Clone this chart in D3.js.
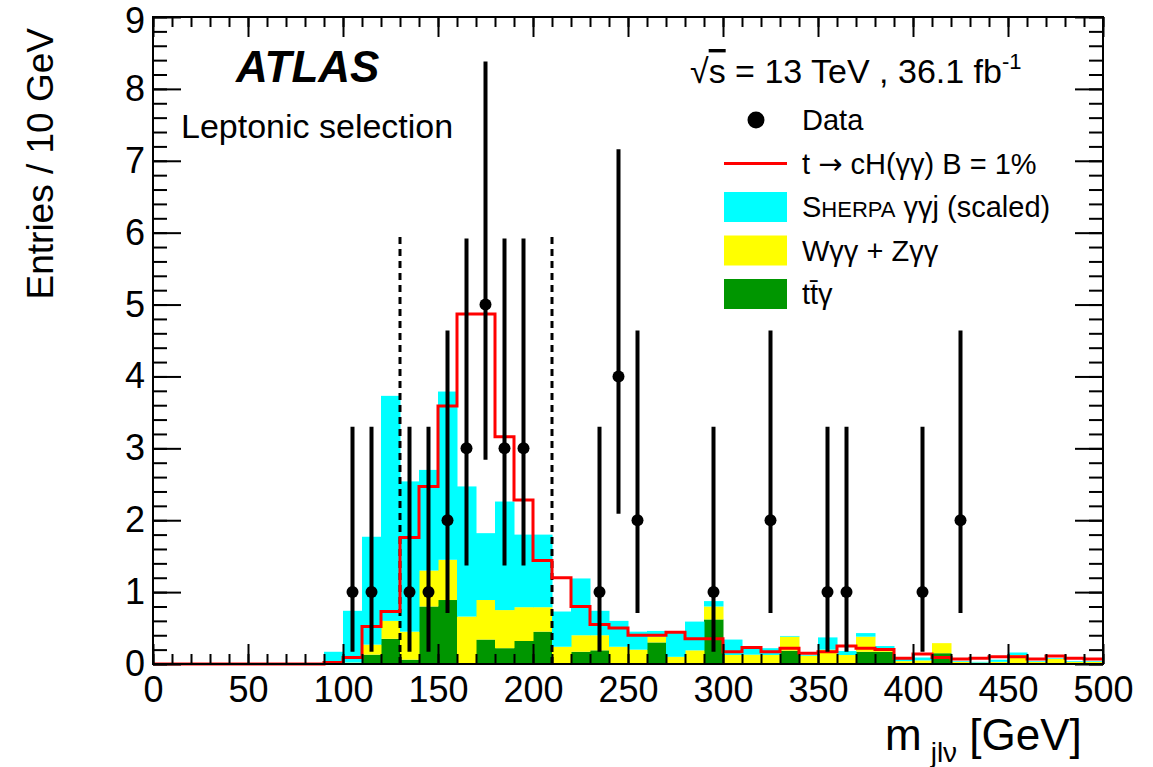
<!DOCTYPE html>
<html>
<head>
<meta charset="utf-8">
<script src="https://cdn.jsdelivr.net/npm/d3@7"></script>
<style>
  body { margin: 0; background: #fff; }
  svg text { font-family: "Liberation Sans", Arial, Helvetica, sans-serif; fill: #000; }
</style>
</head>
<body>
<div id="wrapper"></div>
<script>
// bins of 10 GeV, lower edges 0..490
const binLow = d3.range(0, 500, 10)

// ttbar gamma (green)
const ttgamma = [0, 0, 0, 0, 0, 0, 0, 0, 0,
  0, 0, 0.13, 0.35, 0.06, 0.80, 0.89, 0, 0.34, 0.22, 0.32, 0.45,
  0, 0.17, 0.19, 0, 0, 0.30, 0, 0, 0.62, 0, 0, 0, 0.185, 0, 0, 0, 0.17, 0.17, 0, 0, 0.15,
  0, 0, 0, 0, 0, 0, 0, 0]

// W gamma gamma + Z gamma gamma (yellow)
const vgamgam = [0, 0, 0, 0, 0, 0, 0, 0, 0,
  0, 0.02, 0.14, 0.25, 0.39, 0.50, 0.56, 0.66, 0.55, 0.53, 0.47, 0.34,
  0.24, 0.23, 0.21, 0.24, 0.20, 0.08, 0.10, 0.19, 0.18, 0.125, 0.13, 0.125, 0.195, 0.115, 0.20, 0.125, 0.21, 0.03, 0.04, 0.05, 0.14,
  0.03, 0.02, 0.03, 0.125, 0.03, 0.07, 0.03, 0.03]

// Sherpa gamma gamma j (cyan)
const sherpa = [0, 0, 0, 0, 0, 0, 0, 0, 0,
  0.17, 0.72, 1.50, 3.13, 2.09, 1.40, 2.34, 1.81, 0.93, 1.51, 1.01, 1.01,
  0.49, 0.79, 0.34, 0.36, 0.25, 0.08, 0.35, 0.40, 0.075, 0.215, 0.09, 0.095, 0.01, 0.015, 0.17, 0.055, 0.05, 0.05, 0.05, 0.04, 0,
  0.01, 0.01, 0.03, 0.035, 0.01, 0.01, 0.01, 0.01]

// t -> cH(gamma gamma), B = 1% (red line)
const signal = [0, 0, 0, 0, 0, 0, 0, 0, 0,
  0.02, 0.09, 0.52, 0.73, 1.76, 2.47, 3.59, 4.87, 4.87, 3.16, 2.28, 1.44,
  1.20, 0.80, 0.55, 0.50, 0.40, 0.40, 0.44, 0.35, 0.35, 0.17, 0.23, 0.17, 0.22, 0.15, 0.17, 0.25, 0.22, 0.20, 0.08, 0.14, 0.09,
  0.07, 0.08, 0.10, 0.10, 0.07, 0.11, 0.08, 0.07]

// data points
const dataMass  = [105, 115, 135, 145, 155, 165, 175, 185, 195, 235, 245, 255, 295, 325, 355, 365, 405, 425]
const dataCount = [1, 1, 1, 1, 2, 3, 5, 3, 3, 1, 4, 2, 1, 2, 1, 1, 1, 2]
const dataLo    = [0.17, 0.17, 0.17, 0.17, 0.71, 1.37, 2.84, 1.37, 1.37, 0.17, 2.09, 0.71, 0.17, 0.71, 0.17, 0.17, 0.17, 0.71]
const dataHi    = [3.30, 3.30, 3.30, 3.30, 4.64, 5.92, 8.38, 5.92, 5.92, 3.30, 7.16, 4.64, 3.30, 4.64, 3.30, 3.30, 3.30, 4.64]

// signal region boundaries
const windowEdges = [130, 210]

const xMajor = d3.range(0, 501, 50)
const yMajor = d3.range(0, 10, 1)

const colors = { ttgamma: "#009600", vgamgam: "#ffff00", sherpa: "#00ffff", signal: "#ff0000" }

// chart dimensions
const dimensions = {
  width: 1153,
  height: 767,
  margin: { top: 17, right: 50, bottom: 103, left: 153 },
}
dimensions.boundedWidth = dimensions.width - dimensions.margin.left - dimensions.margin.right
dimensions.boundedHeight = dimensions.height - dimensions.margin.top - dimensions.margin.bottom

const wrapper = d3.select("#wrapper")
  .append("svg")
  .attr("width", dimensions.width)
  .attr("height", dimensions.height)

const bounds = wrapper.append("g")
  .attr("transform", `translate(${dimensions.margin.left}, ${dimensions.margin.top})`)

const xScale = d3.scaleLinear().domain([0, 500]).range([0, dimensions.boundedWidth])
const yScale = d3.scaleLinear().domain([0, 9]).range([dimensions.boundedHeight, 0])

// stacked backgrounds
const table = binLow.map((lo, i) => ({ lo, ttgamma: ttgamma[i], vgamgam: vgamgam[i], sherpa: sherpa[i] }))
const stacked = d3.stack().keys(["ttgamma", "vgamgam", "sherpa"])(table)

bounds.selectAll("g.layer")
  .data(stacked)
  .enter().append("g")
  .attr("class", "layer")
  .attr("fill", d => colors[d.key])
  .selectAll("rect")
  .data(d => d.filter(s => s[1] - s[0] > 0))
  .enter().append("rect")
  .attr("x", d => xScale(d.data.lo))
  .attr("width", xScale(10) - xScale(0) + 0.5)
  .attr("y", d => yScale(d[1]))
  .attr("height", d => yScale(d[0]) - yScale(d[1]))

// dashed window lines
bounds.selectAll("line.window")
  .data(windowEdges)
  .enter().append("line")
  .attr("class", "window")
  .attr("x1", d => xScale(d)).attr("x2", d => xScale(d))
  .attr("y1", yScale(0)).attr("y2", yScale(6))
  .attr("stroke", "#000").attr("stroke-width", 3)
  .attr("stroke-dasharray", "7,5")

// signal step line
const stepPoints = binLow.map((lo, i) => [lo, signal[i]])
stepPoints.push([500, signal[signal.length - 1]])
const stepLine = d3.line()
  .x(d => xScale(d[0]))
  .y(d => yScale(d[1]))
  .curve(d3.curveStepAfter)

bounds.append("path")
  .attr("d", stepLine(stepPoints))
  .attr("fill", "none")
  .attr("stroke", colors.signal)
  .attr("stroke-width", 3)

// data with error bars
const points = dataMass.map((m, i) => ({ m, n: dataCount[i], lo: dataLo[i], hi: dataHi[i] }))

bounds.selectAll("line.err")
  .data(points)
  .enter().append("line")
  .attr("class", "err")
  .attr("x1", d => xScale(d.m)).attr("x2", d => xScale(d.m))
  .attr("y1", d => yScale(d.lo)).attr("y2", d => yScale(d.hi))
  .attr("stroke", "#000").attr("stroke-width", 4)

bounds.selectAll("circle")
  .data(points)
  .enter().append("circle")
  .attr("cx", d => xScale(d.m))
  .attr("cy", d => yScale(d.n))
  .attr("r", 6)
  .attr("fill", "#000")

// axes (ticks inside the frame)
function styleAxis(g) {
  g.select(".domain").remove()
  g.selectAll(".tick line").attr("stroke", "#000").attr("stroke-width", 2)
  g.selectAll(".tick text").style("font-size", "36px")
}

const h = dimensions.boundedHeight
const w = dimensions.boundedWidth

bounds.append("g").attr("transform", `translate(0, ${h})`)
  .call(d3.axisBottom(xScale).tickValues(d3.range(0, 501, 10)).tickSize(-10).tickFormat(""))
  .call(styleAxis)
bounds.append("g").attr("transform", `translate(0, ${h})`)
  .call(d3.axisBottom(xScale).tickValues(xMajor).tickSize(-20).tickPadding(12).tickFormat(d3.format("d")))
  .call(styleAxis)
bounds.append("g")
  .call(d3.axisTop(xScale).tickValues(d3.range(0, 501, 10)).tickSize(-10).tickFormat(""))
  .call(styleAxis)
bounds.append("g")
  .call(d3.axisTop(xScale).tickValues(xMajor).tickSize(-20).tickFormat(""))
  .call(styleAxis)

bounds.append("g")
  .call(d3.axisLeft(yScale).tickValues(d3.range(0, 9.01, 0.2)).tickSize(-14).tickFormat(""))
  .call(styleAxis)
const yAxisG = bounds.append("g")
  .call(d3.axisLeft(yScale).tickValues(yMajor).tickSize(-28).tickPadding(8).tickFormat(d3.format("d")))
  .call(styleAxis)
// keep the top label inside the page
yAxisG.selectAll(".tick text").filter(d => d === 9).attr("dy", "0.42em")

bounds.append("g").attr("transform", `translate(${w}, 0)`)
  .call(d3.axisRight(yScale).tickValues(d3.range(0, 9.01, 0.2)).tickSize(-14).tickFormat(""))
  .call(styleAxis)
bounds.append("g").attr("transform", `translate(${w}, 0)`)
  .call(d3.axisRight(yScale).tickValues(yMajor).tickSize(-28).tickFormat(""))
  .call(styleAxis)

// frame
bounds.append("rect")
  .attr("width", w).attr("height", h)
  .attr("fill", "none").attr("stroke", "#000").attr("stroke-width", 2)

// axis titles
wrapper.append("text")
  .attr("transform", "translate(53, 28) rotate(-90)")
  .attr("text-anchor", "end")
  .style("font-size", "37px")
  .text("Entries / 10 GeV")

const xTitle = wrapper.append("text")
  .attr("x", 885).attr("y", 750)
  .style("font-size", "44px")
xTitle.append("tspan").text("m")
xTitle.append("tspan").attr("dx", 9).attr("dy", 12).style("font-size", "28px").text("jlν")
xTitle.append("tspan").attr("dy", -12).text(" [GeV]")

// labels
wrapper.append("text")
  .attr("x", 236).attr("y", 82)
  .style("font-size", "44px").style("font-weight", "bold").style("font-style", "italic")
  .text("ATLAS")

wrapper.append("text")
  .attr("x", 181).attr("y", 138)
  .style("font-size", "34px")
  .text("Leptonic selection")

const lumi = wrapper.append("text")
  .attr("x", 690).attr("y", 83)
  .style("font-size", "34px")
lumi.append("tspan").text("√")
lumi.append("tspan").style("text-decoration", "overline").text("s")
lumi.append("tspan").text(" = 13 TeV , 36.1 fb")
lumi.append("tspan").attr("dy", -14).style("font-size", "22px").text("-1")

// legend
const legendX = 724
const legendText = 802
const rowY = [120, 163.5, 207, 250.5, 294]

wrapper.append("circle").attr("cx", 756).attr("cy", rowY[0]).attr("r", 8.5).attr("fill", "#000")
wrapper.append("line")
  .attr("x1", legendX).attr("x2", legendX + 63)
  .attr("y1", rowY[1]).attr("y2", rowY[1])
  .attr("stroke", colors.signal).attr("stroke-width", 3)

const swatches = [
  { key: "sherpa", row: 2 },
  { key: "vgamgam", row: 3 },
  { key: "ttgamma", row: 4 },
]
wrapper.selectAll("rect.swatch")
  .data(swatches)
  .enter().append("rect")
  .attr("class", "swatch")
  .attr("x", legendX).attr("y", d => rowY[d.row] - 15)
  .attr("width", 63).attr("height", 30)
  .attr("fill", d => colors[d.key])

const legendFont = "29px"
function legendLabel(row) {
  return wrapper.append("text")
    .attr("x", legendText).attr("y", rowY[row] + 10)
    .style("font-size", legendFont)
}
legendLabel(0).text("Data")
const sig = legendLabel(1)
sig.append("tspan").text("t ")
sig.append("tspan").style("font-family", "DejaVu Sans").text("→")
sig.append("tspan").text(" cH(γγ) B = 1%")
const sh = legendLabel(2)
sh.append("tspan").text("S")
sh.append("tspan").style("font-size", "22px").text("HERPA")
sh.append("tspan").text(" γγj (scaled)")
legendLabel(3).text("Wγγ + Zγγ")
legendLabel(4).text("tt\u0304γ")
</script>
</body>
</html>
